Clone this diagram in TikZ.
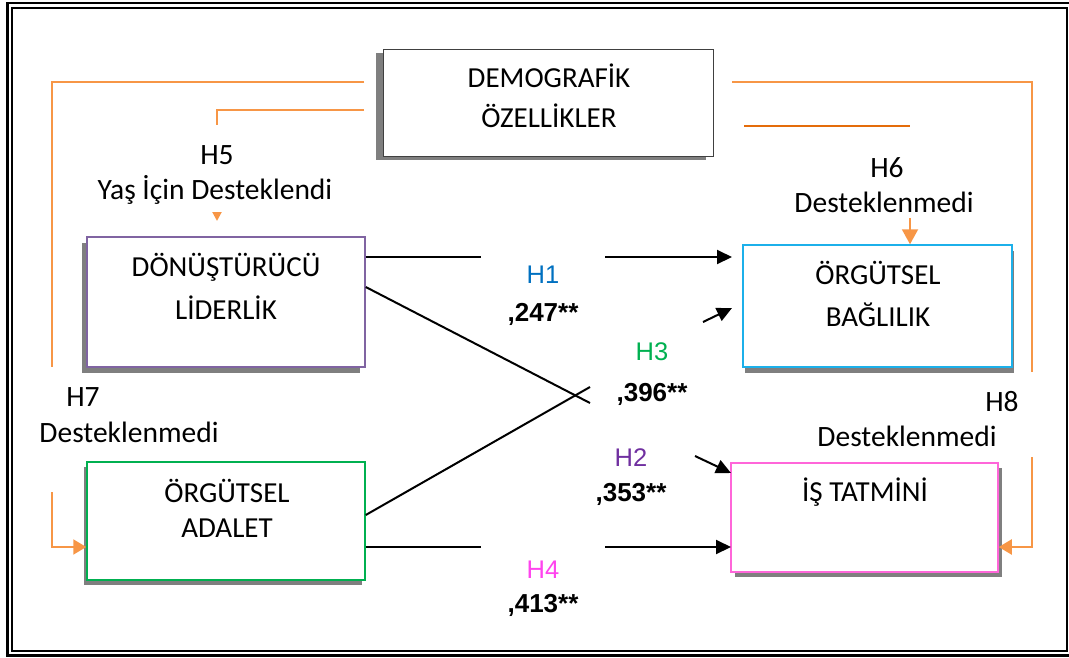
\documentclass[tikz,border=0pt]{standalone}
\usepackage{fontspec}
\setmainfont{Carlito}
\newfontfamily\arialf{Liberation Sans}
\usetikzlibrary{arrows.meta,shadows}
\definecolor{org}{HTML}{F79646}
\definecolor{orgdk}{HTML}{E46C0A}
\definecolor{shg}{HTML}{7F7F7F}
\definecolor{cPurpleBox}{HTML}{8064A2}
\definecolor{cGreenBox}{HTML}{00B050}
\definecolor{cCyanBox}{HTML}{1CB0EA}
\definecolor{cPinkBox}{HTML}{FF66D9}
\definecolor{hOne}{HTML}{0070C0}
\definecolor{hThree}{HTML}{00B050}
\definecolor{hTwo}{HTML}{7030A0}
\definecolor{hFour}{HTML}{FF44EE}
\begin{document}
\begin{tikzpicture}[x=1pt,y=-1pt,
  box/.style={draw, line width=1.5pt, fill=white, inner sep=0pt},
  btxt/.style={anchor=base, inner sep=0pt, font=\fontsize{29}{34}\selectfont},
  ltxt/.style={anchor=base, inner sep=0pt, font=\fontsize{29.5}{34}\selectfont},
  htxt/.style={anchor=base, inner sep=0pt, font=\arialf\fontsize{25.5}{28}\selectfont},
  ntxt/.style={anchor=base, inner sep=0pt, font=\arialf\bfseries\fontsize{26}{30}\selectfont},
  olink/.style={draw=org, line width=2pt},
  blink/.style={draw=black, line width=2pt},
  barrow/.style={blink, -{Triangle[length=15pt,width=14pt]}},
  oarrow/.style={olink, -{Triangle[length=13pt,width=15pt]}}
]
\useasboundingbox (0,0) rectangle (1069,657);
% frame
\draw[line width=2.5pt] (7.5,3) rectangle (1072,655.5);
\draw[line width=2pt] (12,7.5) rectangle (1066.5,650.5);

% boxes
\node[box, draw=black!75, line width=1pt, minimum width=330pt, minimum height=107pt,
  drop shadow={shadow xshift=-7pt, shadow yshift=-4pt, fill=shg, opacity=1}] (demo) at (548,102.5) {};
\node[box, draw=cPurpleBox, minimum width=278pt, minimum height=130pt,
  drop shadow={shadow xshift=-5pt, shadow yshift=-6pt, fill=shg, opacity=1}] (dl) at (226,302) {};
\node[box, draw=cGreenBox, minimum width=278pt, minimum height=118pt,
  drop shadow={shadow xshift=-3pt, shadow yshift=-5pt, fill=shg, opacity=1}] (oa) at (226,521) {};
\node[box, draw=cCyanBox, minimum width=269pt, minimum height=122pt,
  drop shadow={shadow xshift=2pt, shadow yshift=-6pt, fill=shg, opacity=1}] (ob) at (877.5,306) {};
\node[box, draw=cPinkBox, minimum width=267pt, minimum height=109pt,
  drop shadow={shadow xshift=4pt, shadow yshift=-5pt, fill=shg, opacity=1}] (it) at (864.5,517.5) {};

% box texts
\node[btxt] (demoA) at (549,87) {DEMOGRAFİK};
\node[btxt] (demoB) at (549,127) {ÖZELLİKLER};
\node[btxt] (dlA) at (226,276) {DÖNÜŞTÜRÜCÜ};
\node[btxt] (dlB) at (226,319) {LİDERLİK};
\node[btxt] (oaA) at (227,502) {ÖRGÜTSEL};
\node[btxt] (oaB) at (227,537) {ADALET};
\node[btxt] (obA) at (878,284) {ÖRGÜTSEL};
\node[btxt] (obB) at (878,326) {BAĞLILIK};
\node[btxt] (itA) at (865,501) {İŞ TATMİNİ};

% orange connectors (coordinates)
\coordinate (l7a) at (364,82);
\coordinate (l7b) at (52,82);
\coordinate (l7c) at (52,367);
\coordinate (l7d) at (52,492);
\coordinate (l7e) at (52,547);
\coordinate (l5a) at (364,110);
\coordinate (l5b) at (217,110);
\coordinate (l5c) at (217,125);
\coordinate (l5d) at (217,212);
\coordinate (l5e) at (217,221);
\coordinate (l8a) at (732,82);
\coordinate (l8b) at (1032,82);
\coordinate (l8c) at (1032,372);
\coordinate (l8d) at (1032,457);
\coordinate (l8e) at (1032,547);
\coordinate (l6a) at (744,126);
\coordinate (l6b) at (910,126);
\coordinate (l6c) at (910,218);

\draw[olink] (l7a) -- (l7b) -- (l7c);
\draw[oarrow] (l7d) -- (l7e) -- (l7e -| oa.west);
\draw[olink] (l5a) -- (l5b) -- (l5c);
\draw[olink, -{Triangle[length=9pt,width=9pt]}] (l5d) -- (l5e);
\draw[olink] (l8a) -- (l8b) -- (l8c);
\draw[oarrow] (l8d) -- (l8e) -- (l8e -| it.east);
\draw[draw=orgdk, line width=2.5pt] (l6a) -- (l6b);
\draw[olink, -{Triangle[length=15pt,width=16pt]}] (l6c) -- (l6c |- ob.north);

% orange labels
\node[ltxt] (h5) at (217,164) {H5};
\node[ltxt] (h5b) at (215,199) {Yaş İçin Desteklendi};
\node[ltxt] (h6) at (887,177) {H6};
\node[ltxt] (h6b) at (884,212) {Desteklenmedi};
\node[ltxt] (h7) at (83,406) {H7};
\node[ltxt] (h7b) at (129,442) {Desteklenmedi};
\node[ltxt] (h8) at (1002,411) {H8};
\node[ltxt] (h8b) at (907,446) {Desteklenmedi};

% black connectors
\coordinate (h1s) at (dl.east |- 0,257);
\coordinate (h1g1) at (481,257);
\coordinate (h1g2) at (605,257);
\coordinate (h1e) at (732,257);
\draw[blink] (h1s) -- (h1g1);
\draw[barrow] (h1g2) -- (h1e);

\coordinate (h2s) at (dl.east |- 0,287);
\coordinate (h2g1) at (590,403);
\coordinate (h2g2) at (695,456);
\coordinate (h2e) at (731,473);
\draw[blink] (h2s) -- (h2g1);
\draw[barrow] (h2g2) -- (h2e);

\coordinate (h3s) at (oa.east |- 0,515);
\coordinate (h3g1) at (590,387);
\coordinate (h3g2) at (703,322);
\coordinate (h3e) at (732,308);
\draw[blink] (h3s) -- (h3g1);
\draw[barrow] (h3g2) -- (h3e);

\coordinate (h4s) at (oa.east |- 0,547);
\coordinate (h4g1) at (481,547);
\coordinate (h4g2) at (605,547);
\coordinate (h4e) at (731,547);
\draw[blink] (h4s) -- (h4g1);
\draw[barrow] (h4g2) -- (h4e);

% path labels
\node[htxt, text=hOne] (lh1) at (543,283.5) {H1};
\node[ntxt] (n1) at (543,321) {,247**};
\node[htxt, text=hThree] (lh3) at (652,360.5) {H3};
\node[ntxt] (n3) at (652,401) {,396**};
\node[htxt, text=hTwo] (lh2) at (631,466.5) {H2};
\node[ntxt] (n2) at (631,501) {,353**};
\node[htxt, text=hFour] (lh4) at (543,578.5) {H4};
\node[ntxt] (n4) at (543,612) {,413**};
\end{tikzpicture}
\end{document}
